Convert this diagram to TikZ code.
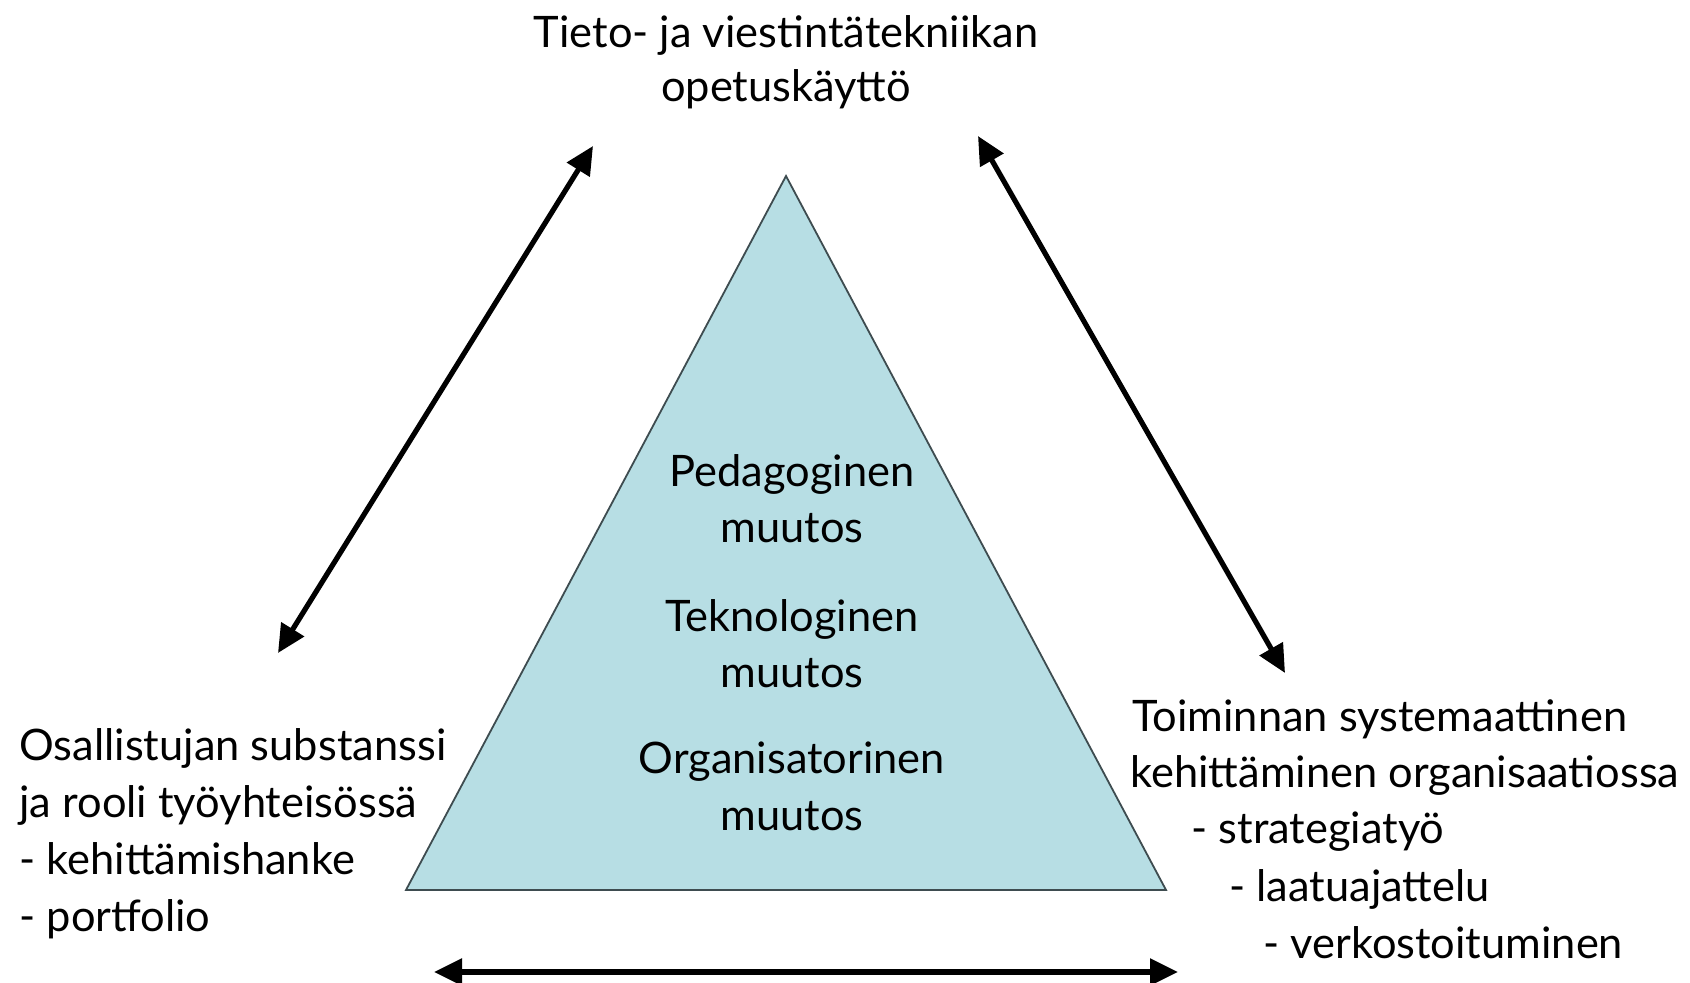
\documentclass[tikz,border=0pt]{standalone}
\usepackage{fontspec}
\setmainfont{Lato}
\usetikzlibrary{arrows.meta}
\definecolor{pyrblue}{HTML}{B7DEE4}
\definecolor{pyredge}{HTML}{3E4C50}
\tikzset{
  lbl/.style={inner sep=0pt, font=\fontsize{21.7}{28}\selectfont, text=black},
  link/.style={{Triangle[length=14pt,width=13pt]}-{Triangle[length=14pt,width=13pt]},
    line width=2.6pt, color=black},
  pyr/.style={draw=pyredge, fill=pyrblue, line width=0.9pt, line join=miter},
}
\begin{document}
\begin{tikzpicture}[x=0.5pt,y=-0.5pt]
  \useasboundingbox (0,0) rectangle (1690,983);
  % the pyramid
  \coordinate (apex) at (786,176);
  \coordinate (bl) at (406,890);
  \coordinate (br) at (1166,890);
  \draw[pyr] (apex) -- (bl) -- (br) -- cycle;
  \foreach \y/\txt [count=\i] in {487/Pedagoginen, 542/muutos, 631/Teknologinen,
      687/muutos, 773/Organisatorinen, 830/muutos} {
    \node[lbl, anchor=base] (chg\i) at (792,\y) {\txt};
  }
  % the three corners
  \node[lbl, anchor=base] (ict1) at (786,48) {Tieto- ja viestintätekniikan};
  \node[lbl, anchor=base] (ict2) at (786,102) {opetuskäyttö};
  \foreach \y/\txt [count=\i] in {760/Osallistujan substanssi, 817/ja rooli työyhteisössä,
      874/- kehittämishanke, 931/- portfolio} {
    \node[lbl, anchor=base west] (part\i) at (19,\y) {\txt};
  }
  \foreach \x/\y/\txt [count=\i] in {1132/731/Toiminnan systemaattinen,
      1130/787/kehittäminen organisaatiossa, 1191/843/- strategiatyö,
      1229/901/- laatuajattelu, 1263/958/- verkostoituminen} {
    \node[lbl, anchor=base west] (org\i) at (\x,\y) {\txt};
  }
  % arrows between the corners
  \coordinate (ictL) at (593,146);
  \coordinate (partT) at (278,653);
  \coordinate (ictR) at (978,136);
  \coordinate (orgT) at (1285,673);
  \coordinate (partR) at (434,972);
  \coordinate (orgL) at (1178,972);
  \draw[link] (partT) -- (ictL);
  \draw[link] (ictR) -- (orgT);
  \draw[link] (partR) -- (orgL);
\end{tikzpicture}
\end{document}
